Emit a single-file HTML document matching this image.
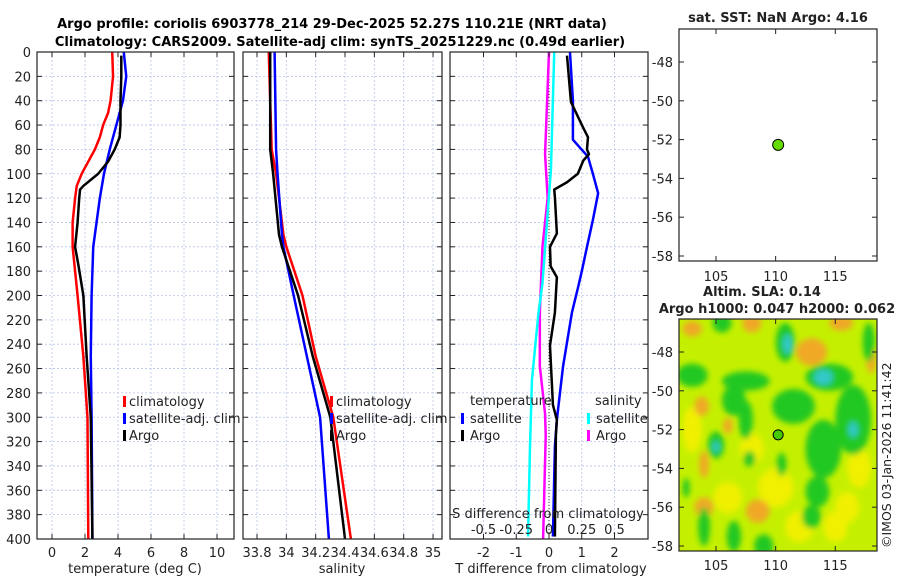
<!DOCTYPE html>
<html><head><meta charset="utf-8"><style>
body{margin:0;background:#fff;}
svg{display:block;font-family:"DejaVu Sans","Liberation Sans",sans-serif;}
</style></head><body>
<svg id="fig" width="900" height="580" viewBox="0 0 900 580">
<defs>
<clipPath id="c1"><rect x="37" y="52" width="197" height="487"/></clipPath>
<clipPath id="c2"><rect x="243" y="52" width="199" height="487"/></clipPath>
<clipPath id="c3"><rect x="450" y="52" width="198" height="487"/></clipPath>
<clipPath id="cm"><rect x="679" y="319" width="198" height="232"/></clipPath>
<filter id="blur" x="-50%" y="-50%" width="200%" height="200%"><feGaussianBlur stdDeviation="3"/></filter>
</defs>
<text x="332" y="28" text-anchor="middle" font-size="13" font-weight="bold">Argo profile: coriolis 6903778_214 29-Dec-2025 52.27S 110.21E (NRT data)</text>
<text x="340" y="46" text-anchor="middle" font-size="13" font-weight="bold">Climatology: CARS2009. Satellite-adj clim: synTS_20251229.nc (0.49d earlier)</text>
<g id="g"></g>
</svg>
<script>
// ---- data ----
const tDepth   = [0,20,40,50,60,70,80,90,100,110,120,140,160,180,200,250,300,400];
const tClim    = [3.65,3.7,3.55,3.4,3.1,2.9,2.6,2.2,1.8,1.5,1.4,1.25,1.25,1.4,1.55,1.9,2.15,2.2];
const tSatDepth= [0,20,40,60,80,100,120,140,160,200,250,300,400];
const tSat     = [4.35,4.5,4.3,3.9,3.5,3.15,2.9,2.7,2.5,2.4,2.35,2.4,2.45];
const argoDepth= [3,20,40,60,70,80,90,100,110,113,120,140,160,175,200,250,300,400];
const tArgo    = [4.2,4.2,4.15,4.15,4.1,3.8,3.4,2.8,1.9,1.7,1.65,1.55,1.4,1.6,1.9,2.1,2.35,2.45];
const sDepth   = [0,80,100,150,160,200,250,300,400];
const sClim    = [33.88,33.9,33.93,33.98,34.0,34.11,34.2,34.32,34.44];
const sSat     = [33.92,33.93,33.94,33.97,33.98,34.05,34.14,34.23,34.29];
const sArgo    = [33.89,33.89,33.91,33.95,33.97,34.08,34.18,34.3,34.4];
const dSatDepth= [0,40,72,86,100,116,138,160,179,193,214,258,302,324,398];
const dTSat    = [0.64,0.73,0.73,1.19,1.34,1.5,1.34,1.16,1.01,0.89,0.7,0.43,0.24,0.18,0.12];
const dArgoDepth=[3,41,62,70,80,84,89,100,107,113,119,149,160,176,185,214,241,290,302,315,398];
const dTArgo   = [0.55,0.67,1.04,1.19,1.16,1.22,1.05,0.88,0.55,0.16,0.18,0.24,0.03,0.05,0.24,0.18,0.03,0.12,0.24,0.21,0.18];
const sdDepth  = [0,84,120,160,214,258,297,315,400];
const dSArgo   = [0.0,-0.03,-0.01,-0.05,-0.07,-0.07,-0.03,-0.025,-0.045];
const sdSatDepth=[0,96,190,214,269,324,398];
const dSSat    = [0.04,0.015,-0.05,-0.08,-0.13,-0.145,-0.16];
const depthTicks=[0,20,40,60,80,100,120,140,160,180,200,220,240,260,280,300,320,340,360,380,400];
const tTicks=[0,2,4,6,8,10], sTicks=[33.8,34,34.2,34.4,34.6,34.8,35];
const dtTicks=[-2,-1,0,1,2], dsTicks=[-0.5,-0.25,0,0.25,0.5];
const latTicks=[-48,-50,-52,-54,-56,-58], lonTicks=[105,110,115];
const argoLon=110.21, argoLat=-52.27;
const blobLon=[103,107.5,106.5,107.5,111.5,114.5,116.5,114,105,110.8,107.8,110.5,113.5,104,109,106.5,117.8,113,102.5,105.5,110,108,117,106,112,115,103,116,103.8,108,113,104,104,108.5,118,103,106,115.5,111,114,105,116.5];
const blobLat=[-49.2,-49.5,-50.5,-51.5,-50.8,-49.3,-51.5,-53,-52.8,-47.5,-53.5,-53.8,-55.2,-57,-58,-57.5,-47.5,-56.5,-55,-46.5,-55,-53,-54,-55.5,-57,-57,-52,-56,-50.8,-46.5,-48,-53.8,-56,-56.2,-48.3,-46.8,-51.8,-46.5,-47.6,-49.3,-52.9,-52];
const blobRx=[1.3,2,1,0.6,1.8,2,1.5,1.5,0.7,0.8,0.5,0.4,1,0.5,0.8,0.6,0.5,0.8,0.3,0.8,1.5,1,1,1.2,1.2,1,0.8,1,0.6,0.8,1.3,0.4,0.8,1,0.4,0.8,0.4,1,0.4,0.8,0.3,0.4];
const blobRy=[0.6,0.5,0.8,1,0.9,0.7,1.8,1.5,0.7,1,0.4,0.6,0.8,1,0.6,0.8,1,0.6,0.5,0.5,1,0.8,1,0.8,0.8,0.8,1.2,0.8,0.5,0.5,0.7,0.7,0.5,0.6,0.8,0.4,0.4,0.4,0.5,0.4,0.3,0.4];
const blobKind=['g','g','g','g','g','g','g','g','g','g','g','g','g','g','g','g','g','g','g','g','y','y','y','y','y','y','y','y','o','o','o','o','o','o','o','o','o','o','c','c','c','c'];
// ---- drawing ----
const NS='http://www.w3.org/2000/svg', G=document.getElementById('g');
function el(t,a,p){const e=document.createElementNS(NS,t);for(const k in a)e.setAttribute(k,a[k]);(p||G).appendChild(e);return e;}
const Y0=52,Y1=539;
const yD=d=>Y0+(d/400)*(Y1-Y0);
const xT=v=>52+v*16.5, xS=v=>257+(v-33.8)*146.7, xDT=v=>549+v*32.75, xDS=v=>549+v*131;
const mapX=l=>716+(l-105)*11.93;
const m1Y=l=>62+(-48-l)*19.4, m2Y=l=>352+(-48-l)*19.4;
function grid(x0,x1,xs,name){
  const g=el('g',{});
  
  
  depthTicks.forEach(d=>{el('line',{x1:x0,x2:x1,y1:yD(d),y2:yD(d),stroke:'#b8c4e8','stroke-dasharray':'2,2','stroke-width':0.8},g);});
  xs.forEach(x=>{el('line',{x1:x,x2:x,y1:Y0,y2:Y1,stroke:'#b8c4e8','stroke-dasharray':'2,2','stroke-width':0.8},g);});
}
function frame(x0,x1,xs,name){
  const g=el('g',{});
  
  
  el('rect',{x:x0,y:Y0,width:x1-x0,height:Y1-Y0,fill:'none',stroke:'#222','stroke-width':1.2},g);
  depthTicks.forEach(d=>{el('line',{x1:x0,x2:x0+5,y1:yD(d),y2:yD(d),stroke:'#222'},g);el('line',{x1:x1,x2:x1-5,y1:yD(d),y2:yD(d),stroke:'#222'},g);});
  xs.forEach(x=>{el('line',{x1:x,x2:x,y1:Y1,y2:Y1-5,stroke:'#222'},g);el('line',{x1:x,x2:x,y1:Y0,y2:Y0+5,stroke:'#222'},g);});
}
function line(depths,vals,fx,color,clip,name,w){
  const p=el('polyline',{points:depths.map((d,i)=>fx(vals[i])+','+yD(d)).join(' '),fill:'none',stroke:color,'stroke-width':w||2.5,'clip-path':'url(#'+clip+')','stroke-linejoin':'round'});
  
  
}
function txt(x,y,s,o){const t=el('text',Object.assign({x:x,y:y,'font-size':13,fill:'#222'},o||{}));t.textContent=s;return t;}
// Panel 1
grid(37,234,tTicks.map(xT),'temperature');
line(tDepth,tClim,xT,'#f00','c1','temp-climatology-line');
line(tSatDepth,tSat,xT,'#00f','c1','temp-satellite-line');
line(argoDepth,tArgo,xT,'#000','c1','temp-argo-line');
frame(37,234,tTicks.map(xT),'temperature');
depthTicks.forEach(d=>{const t=txt(31,yD(d)+5,String(d),{'text-anchor':'end'});});
tTicks.forEach(v=>{const t=txt(xT(v),557,String(v),{'text-anchor':'middle'});});
let t=txt(135,573,'temperature (deg C)',{'text-anchor':'middle'});
// Panel 2
grid(243,442,sTicks.map(xS),'salinity');
line(sDepth,sClim,xS,'#f00','c2','sal-climatology-line');
line(sDepth,sSat,xS,'#00f','c2','sal-satellite-line');
line(sDepth,sArgo,xS,'#000','c2','sal-argo-line');
frame(243,442,sTicks.map(xS),'salinity');
sTicks.forEach(v=>{const t=txt(xS(v),557,String(v),{'text-anchor':'middle'});});
t=txt(342,573,'salinity',{'text-anchor':'middle'});
[[123,'p1'],[330,'p2']].forEach(([lx,nm])=>{
  const g=el('g',{});
  
  
  [['climatology','#f00'],['satellite-adj. clim','#00f'],['Argo','#000']].forEach((e,i)=>{
    el('rect',{x:lx,y:396+i*17,width:3,height:11,fill:e[1]},g);
    g.appendChild(txt(lx+6,406+i*17,e[0]));
  });
});
// Panel 3
grid(450,648,dtTicks.map(xDT),'difference');
el('line',{x1:xDT(0),x2:xDT(0),y1:Y0,y2:Y1,stroke:'#333','stroke-dasharray':'1,2','stroke-width':1});
line(sdDepth,dSArgo,xDS,'#f0f','c3','sdiff-argo-line');
line(sdSatDepth,dSSat,xDS,'#0ff','c3','sdiff-satellite-line');
line(dSatDepth,dTSat,xDT,'#00f','c3','tdiff-satellite-line');
line(dArgoDepth,dTArgo,xDT,'#000','c3','tdiff-argo-line');
frame(450,648,dtTicks.map(xDT),'difference');
dtTicks.forEach(v=>{const t=txt(xDT(v),557,String(v),{'text-anchor':'middle'});});
dsTicks.forEach(v=>{const t=txt(xDS(v),534,String(v),{'text-anchor':'middle'});});
t=txt(548,518,'S difference from climatology',{'text-anchor':'middle'});
t=txt(551,573,'T difference from climatology',{'text-anchor':'middle'});
{
  const g=el('g',{});
  
  
  g.appendChild(txt(470,405,'temperature'));g.appendChild(txt(595,405,'salinity'));
  [['satellite','#00f',461],['Argo','#000',461],['satellite','#0ff',587],['Argo','#f0f',587]].forEach((e,i)=>{
    const r=i%2;el('rect',{x:e[2],y:413+r*17,width:3,height:11,fill:e[1]},g);g.appendChild(txt(e[2]+9,423+r*17,e[0]));
  });
}
// Map 1
{
  const g=el('g',{});
  
  
  el('rect',{x:679,y:29,width:198,height:232,fill:'#fff',stroke:'#222','stroke-width':1.2},g);
  latTicks.forEach(l=>{el('line',{x1:679,x2:684,y1:m1Y(l),y2:m1Y(l),stroke:'#222'},g);el('line',{x1:877,x2:872,y1:m1Y(l),y2:m1Y(l),stroke:'#222'},g);g.appendChild(txt(673,m1Y(l)+5,String(l),{'text-anchor':'end'}));});
  lonTicks.forEach(l=>{el('line',{x1:mapX(l),x2:mapX(l),y1:261,y2:256,stroke:'#222'},g);el('line',{x1:mapX(l),x2:mapX(l),y1:29,y2:34,stroke:'#222'},g);g.appendChild(txt(mapX(l),281,String(l),{'text-anchor':'middle'}));});
  const c=el('circle',{cx:mapX(argoLon),cy:m1Y(argoLat),r:5.5,fill:'#66dd00',stroke:'#000','stroke-width':1});
  
  g.appendChild(txt(778,22,'sat. SST: NaN Argo: 4.16',{'text-anchor':'middle','font-weight':'bold'}));
}
// Map 2
{
  const g=el('g',{});
  
  
  const h=el('g',{'clip-path':'url(#cm)'},g);
  el('rect',{x:679,y:319,width:198,height:232,fill:'#c4f000'},h);
  const bl=el('g',{filter:'url(#blur)'},h);
  const col={g:'#20c820',y:'#f0f000',o:'#f0a828',c:'#30c8c8'};
  ['y','o','g','c'].forEach(k=>{
    blobLon.forEach((lo,i)=>{
      if(blobKind[i]!==k)return;
      const e=el('ellipse',{cx:mapX(lo),cy:m2Y(blobLat[i]),rx:blobRx[i]*11.93,ry:blobRy[i]*19.4,fill:col[k]},bl);
      
      
    });
  });
  el('rect',{x:679,y:319,width:198,height:232,fill:'none',stroke:'#222','stroke-width':1.2},g);
  latTicks.forEach(l=>{el('line',{x1:679,x2:684,y1:m2Y(l),y2:m2Y(l),stroke:'#222'},g);el('line',{x1:877,x2:872,y1:m2Y(l),y2:m2Y(l),stroke:'#222'},g);g.appendChild(txt(673,m2Y(l)+5,String(l),{'text-anchor':'end'}));});
  lonTicks.forEach(l=>{el('line',{x1:mapX(l),x2:mapX(l),y1:551,y2:546,stroke:'#222'},g);el('line',{x1:mapX(l),x2:mapX(l),y1:319,y2:324,stroke:'#222'},g);g.appendChild(txt(mapX(l),570,String(l),{'text-anchor':'middle'}));});
  const c=el('circle',{cx:mapX(argoLon),cy:m2Y(argoLat),r:5,fill:'#44cc00',stroke:'#000','stroke-width':1});
  
  g.appendChild(txt(762,296,'Altim. SLA: 0.14',{'text-anchor':'middle','font-weight':'bold'}));
  g.appendChild(txt(777,313,'Argo h1000: 0.047 h2000: 0.062',{'text-anchor':'middle','font-weight':'bold'}));
}
t=txt(0,0,'©IMOS 03-Jan-2026 11:41:42',{transform:'translate(891,548) rotate(-90)','font-size':12.5});

</script>
</body></html>
